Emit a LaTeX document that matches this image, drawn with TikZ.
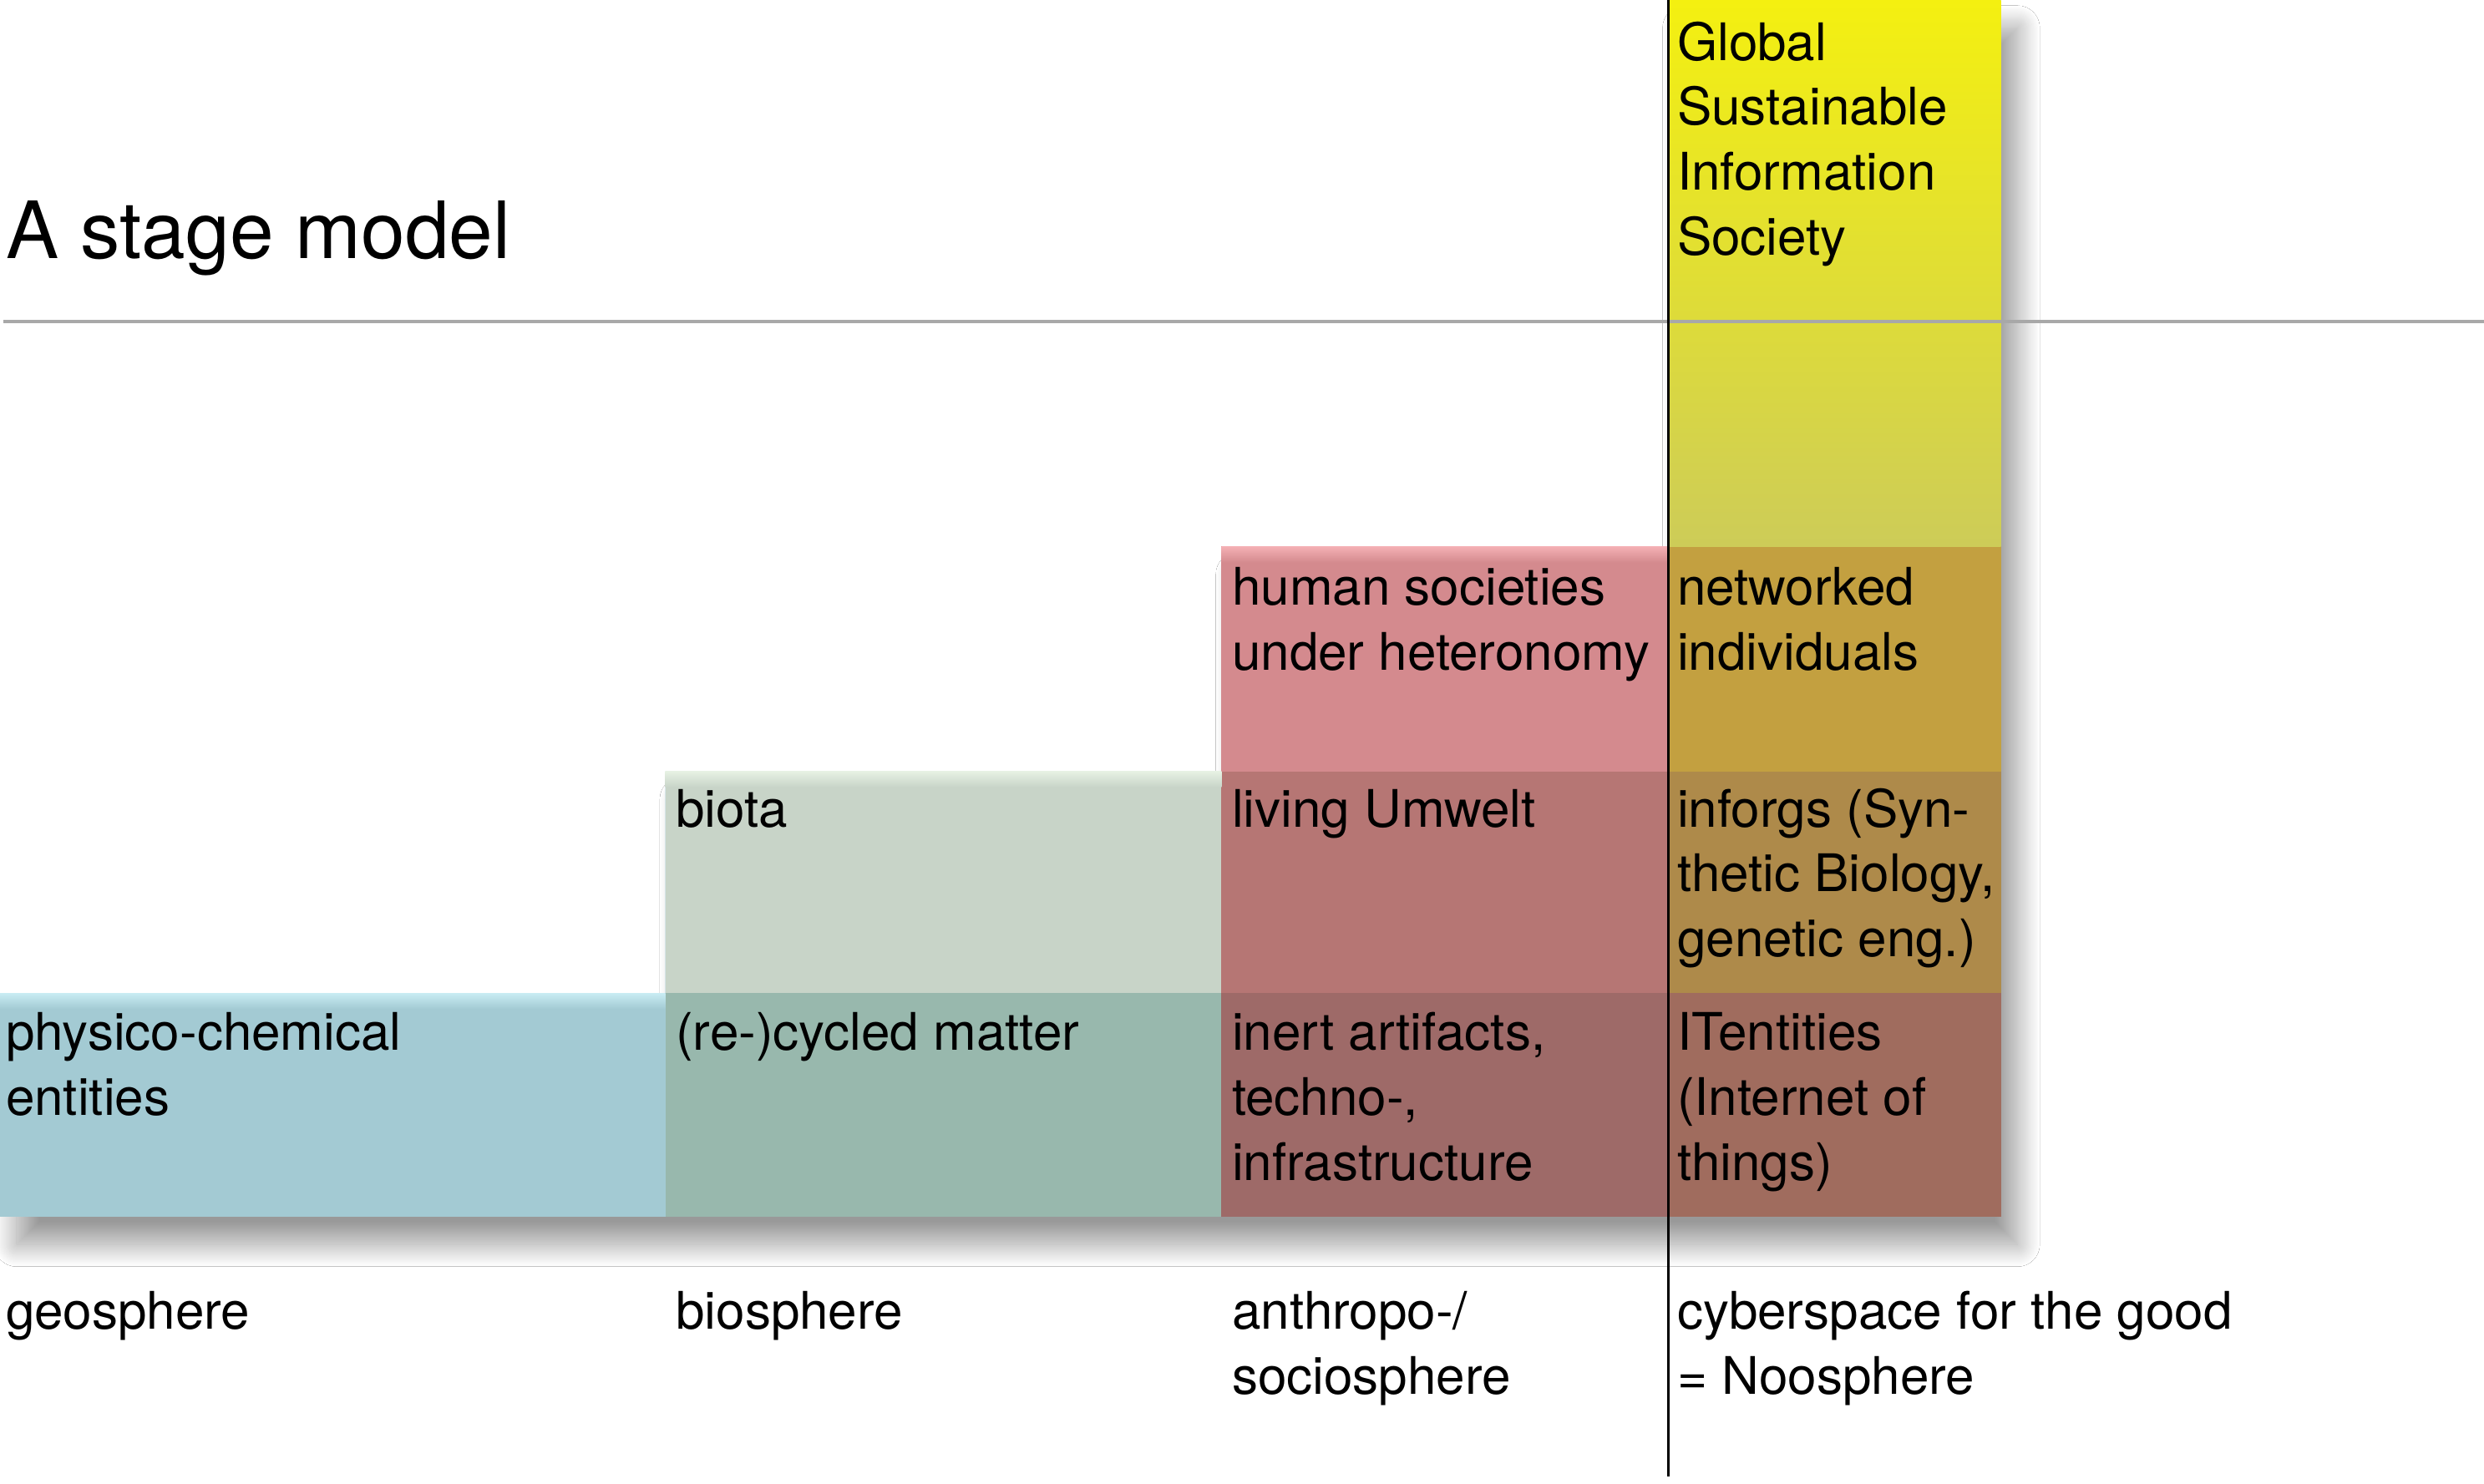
\documentclass[tikz,border=0pt]{standalone}
\usepackage{fontspec}
\setmainfont{TeX Gyre Heros}
\usepackage{xcolor}
\usetikzlibrary{positioning,shadows.blur}

\definecolor{geoblue}{HTML}{A3CAD3}
\definecolor{geohi}{HTML}{C8ECF3}
\definecolor{biogreen}{HTML}{C8D4C8}
\definecolor{biohi}{HTML}{E6F1E3}
\definecolor{biogeo}{HTML}{98B8AD}
\definecolor{sociopink}{HTML}{D48A8E}
\definecolor{sociohi}{HTML}{F4B0B4}
\definecolor{sociobio}{HTML}{B67674}
\definecolor{sociogeo}{HTML}{9E6A68}
\definecolor{noostop}{HTML}{F4F010}
\definecolor{noosbot}{HTML}{CDCC58}
\definecolor{noossocio}{HTML}{C3A040}
\definecolor{noosbio}{HTML}{AE8A4A}
\definecolor{noosgeo}{HTML}{A06C5E}
\definecolor{rulegray}{HTML}{A8A8A8}

\newcommand{\bodyfont}{\fontsize{9.3}{11.67}\selectfont}
\newcommand{\titlefont}{\fontsize{14.2}{17}\selectfont}

\tikzset{
  lbl/.style={anchor=base west, inner sep=0pt, align=left, font=\bodyfont},
  stairshadow/.style={blur shadow={shadow xshift=3pt, shadow yshift=-5pt, shadow blur radius=4pt, shadow blur steps=25, shadow opacity=40}}
}

\begin{document}
\begin{tikzpicture}
    \path[use as bounding box, fill=white] (0,0) rectangle (15.68,-9.364);
    % staircase with its shadow
    \fill[geoblue, stairshadow] (0,-6.27) -| (4.20,-4.87) -| (7.71,-3.45) -| (10.53,0) -| (12.63,-7.68) -- (0,-7.68) -- cycle;
    \foreach \xa/\ya/\xb/\yb/\col in {0/-6.27/4.20/-7.68/geoblue,
        4.20/-4.87/7.71/-6.27/biogreen, 4.20/-6.27/7.71/-7.68/biogeo,
        7.71/-3.45/10.53/-4.87/sociopink, 7.71/-4.87/10.53/-6.27/sociobio, 7.71/-6.27/10.53/-7.68/sociogeo,
        10.53/-3.45/12.63/-4.87/noossocio, 10.53/-4.87/12.63/-6.27/noosbio, 10.53/-6.27/12.63/-7.68/noosgeo}
        {\fill[\col] (\xa,\ya) rectangle (\xb,\yb);}
    \shade[top color=noostop, bottom color=noosbot] (10.53,0) rectangle (12.63,-3.45);
    % glossy top edges
    \foreach \xa/\xb/\y/\hi/\col in {0/4.20/-6.27/geohi/geoblue, 4.20/7.71/-4.87/biohi/biogreen, 7.71/10.53/-3.45/sociohi/sociopink}
        {\shade[top color=\hi, bottom color=\col] (\xa,\y) rectangle (\xb,\y-0.1);}

    % rules
    \coordinate (ruleL) at (0.02,-2.03);
    \coordinate (ruleR) at (15.68,-2.03);
    \coordinate (axisT) at (10.53,0);
    \coordinate (axisB) at (10.53,-9.32);
    \draw[rulegray, line width=0.6pt] (ruleL) -- (ruleR);
    \draw[black, line width=0.5pt] (axisT) -- (axisB);

    \node[anchor=base west, inner sep=0pt, font=\titlefont] (title) at (0.03,-1.63) {A stage model};

    % labels, placed at the baseline of their last line
    \foreach \name/\x/\y/\txt in {gsis/10.58/-1.61/{Global\\Sustainable\\Information\\Society},
        human/7.77/-4.23/{human societies\\under heteronomy},
        networked/10.58/-4.23/{networked\\individuals},
        biota/4.26/-5.22/{biota},
        umwelt/7.77/-5.22/{living Umwelt},
        inforgs/10.58/-6.04/{inforgs (Syn-\\thetic Biology,\\genetic eng.)},
        physico/0.03/-7.04/{physico-chemical\\entities},
        matter/4.26/-6.63/{(re-)cycled matter},
        artifacts/7.77/-7.45/{inert artifacts,\\techno-,\\infrastructure},
        itent/10.58/-7.45/{ITentities\\(Internet of\\things)},
        geo/0.03/-8.39/{geosphere},
        bio/4.26/-8.39/{biosphere},
        socio/7.77/-8.80/{anthropo-/\\sociosphere},
        noos/10.58/-8.80/{cyberspace for the good\\= Noosphere}}
        {\node[lbl] (\name) at (\x,\y) {\txt};}
\end{tikzpicture}
\end{document}
